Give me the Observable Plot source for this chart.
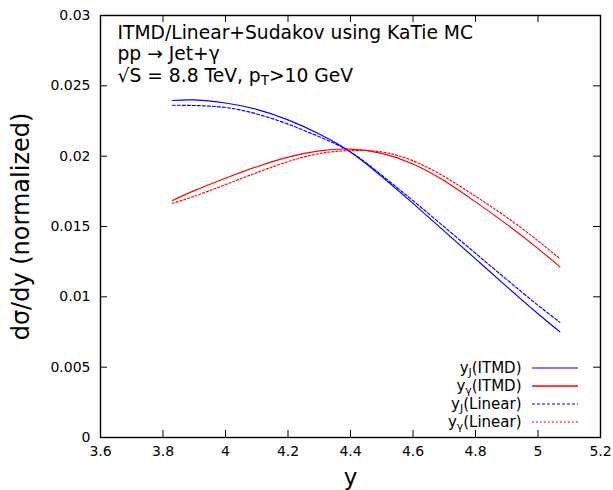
<!DOCTYPE html>
<html><head><meta charset="utf-8">
<script src="https://cdn.jsdelivr.net/npm/d3@7"></script>
<script src="https://cdn.jsdelivr.net/npm/@observablehq/plot@0.6"></script>
<style>body{margin:0;background:#fff}#chart{width:613px;height:490px}</style>
</head><body><div id="chart"></div>
<script>
// ---- data ----
const yValues       = [3.83, 3.9, 4.0, 4.1, 4.2, 4.3, 4.4, 4.5, 4.6, 4.7, 4.8, 4.9, 5.0, 5.07];
const yJ_ITMD       = [0.02396, 0.02400, 0.02378, 0.02333, 0.02258, 0.02158, 0.02030, 0.01855, 0.01664, 0.01467, 0.01270, 0.01073, 0.00880, 0.00752];
const yGamma_ITMD   = [0.01685, 0.01755, 0.01843, 0.01925, 0.01993, 0.02038, 0.02050, 0.02020, 0.01945, 0.01825, 0.01675, 0.01515, 0.01343, 0.01213];
const yJ_Linear     = [0.02362, 0.02360, 0.02346, 0.02300, 0.02228, 0.02138, 0.02030, 0.01865, 0.01684, 0.01497, 0.01310, 0.01123, 0.00940, 0.00820];
const yGamma_Linear = [0.01665, 0.01715, 0.01798, 0.01883, 0.01961, 0.02018, 0.02040, 0.02030, 0.01967, 0.01855, 0.01715, 0.01565, 0.01398, 0.01271];
const seriesNames   = ["y_J(ITMD)", "y_γ(ITMD)", "y_J(Linear)", "y_γ(Linear)"];
const xTicks        = [3.6, 3.8, 4.0, 4.2, 4.4, 4.6, 4.8, 5.0, 5.2];
const xTickLabels   = ["3.6", "3.8", "4", "4.2", "4.4", "4.6", "4.8", "5", "5.2"];
const yTicks        = [0, 0.005, 0.01, 0.015, 0.02, 0.025, 0.03];
const yTickLabels   = ["0", "0.005", "0.01", "0.015", "0.02", "0.025", "0.03"];
const titleLines    = ["ITMD/Linear+Sudakov using KaTie MC", "pp → Jet+γ", "√S = 8.8 TeV, p_T>10 GeV"];
const xLabel = "y";
const yLabel = "dσ/dy (normalized)";

// ---- styles ----
const seriesData = [yJ_ITMD, yGamma_ITMD, yJ_Linear, yGamma_Linear];
const seriesStyle = [
  {stroke: "#0000ff", dash: null, legendWidth: 1.15},
  {stroke: "#ff0000", dash: null, legendWidth: 1.4},
  {stroke: "#0000ff", dash: "3,2", legendWidth: 1.15},
  {stroke: "#ff0000", dash: "2,2", legendWidth: 1.15}
];
const W = 613, H = 490, ML = 100, MR = 13, MT = 15, MB = 53;
const innerW = W - ML - MR, innerH = H - MT - MB, TL = 7;

const rows = seriesNames.flatMap((name, i) => yValues.map((x, j) => ({series: name, x, v: seriesData[i][j]})));

const lineMarks = seriesNames.map((name, i) => Plot.line(rows.filter(r => r.series === name), {
  x: "x", y: "v", stroke: seriesStyle[i].stroke, strokeDasharray: seriesStyle[i].dash,
  strokeWidth: 1.15, curve: "natural"
}));

const titleDy = [23, 44.5, 66];
const titleMarks = titleLines.map((t, i) => Plot.text([t], {
  text: d => d, frameAnchor: "top-left", textAnchor: "start", lineAnchor: "bottom",
  dx: 17, dy: titleDy[i], fontSize: 18.7
}));

const legendDy = [-69, -51, -33, -15];
const legendMarks = seriesNames.map((name, i) => Plot.text([name], {
  text: d => d, frameAnchor: "bottom-right", textAnchor: "end", lineAnchor: "middle",
  dx: -79, dy: legendDy[i], fontSize: 15
}));

const chart = Plot.plot({
  width: W, height: H,
  marginLeft: ML, marginRight: MR, marginTop: MT, marginBottom: MB,
  style: {fontFamily: "'DejaVu Sans', sans-serif", background: "white", color: "black"},
  x: {domain: [3.6, 5.2]},
  y: {domain: [0, 0.03]},
  marks: [
    ...lineMarks,
    Plot.tickX(xTicks, {x: d => d, insetTop: innerH - TL, stroke: "black"}),
    Plot.tickX(xTicks, {x: d => d, insetBottom: innerH - TL, stroke: "black"}),
    Plot.tickY(yTicks, {y: d => d, insetRight: innerW - TL, stroke: "black"}),
    Plot.tickY(yTicks, {y: d => d, insetLeft: innerW - TL, stroke: "black"}),
    Plot.frame({stroke: "black", strokeWidth: 1.4}),
    Plot.axisX(xTicks, {tickSize: 0, tickPadding: 9, tickFormat: d => xTickLabels[xTicks.indexOf(d)], fontSize: 14, label: null}),
    Plot.axisY(yTicks, {tickSize: 0, tickPadding: 10, tickFormat: d => yTickLabels[yTicks.indexOf(d)], fontSize: 14, label: null}),
    Plot.text([xLabel], {text: d => d, frameAnchor: "bottom", textAnchor: "middle", lineAnchor: "middle", dy: 40, fontSize: 23}),
    Plot.text([yLabel], {text: d => d, frameAnchor: "left", textAnchor: "middle", lineAnchor: "middle", dx: -79, rotate: -90, fontSize: 24}),
    ...titleMarks,
    ...legendMarks
  ]
});

// subscripts: "_X" -> lowered, smaller X
const NS = "http://www.w3.org/2000/svg";
chart.querySelectorAll("text").forEach(t => {
  const s = t.textContent;
  if (!s.includes("_")) return;
  let fs = 16;
  let el = t;
  while (el && el.getAttribute) { const f = el.getAttribute("font-size"); if (f) { fs = parseFloat(f); break; } el = el.parentNode; }
  const shift = fs * 0.16;
  t.textContent = "";
  const parts = s.split(/_(.)/);
  parts.forEach((p, k) => {
    if (!p) return;
    const ts = document.createElementNS(NS, "tspan");
    ts.textContent = p;
    if (k % 2 === 1) { ts.setAttribute("font-size", (fs * 0.72) + "px"); ts.setAttribute("dy", shift); }
    else if (k > 0) ts.setAttribute("dy", -shift);
    t.appendChild(ts);
  });
});

// legend sample lines
const svg = d3.select(chart);
const right = W - MR, bottom = H - MB;
seriesNames.forEach((name, i) => {
  const cy = bottom + legendDy[i];
  svg.append("line")
    .attr("x1", right - 68).attr("x2", right - 22)
    .attr("y1", cy).attr("y2", cy)
    .attr("stroke", seriesStyle[i].stroke)
    .attr("stroke-width", seriesStyle[i].legendWidth)
    .attr("stroke-dasharray", seriesStyle[i].dash);
});

document.getElementById("chart").appendChild(chart);
</script>
</body></html>
